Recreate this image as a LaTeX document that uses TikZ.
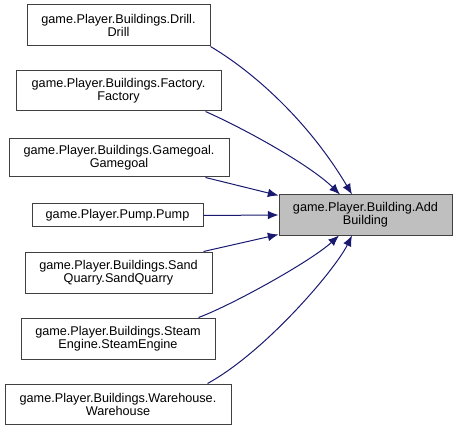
\documentclass[tikz,border=0pt]{standalone}
\usepackage{fontspec}
\setmainfont{Liberation Sans}
\usetikzlibrary{arrows.meta,calc}
\definecolor{edgeblue}{HTML}{191970}
\definecolor{boxline}{HTML}{404040}
\definecolor{boxfill}{HTML}{BFBFBF}
\begin{document}
\begin{tikzpicture}[x=0.75pt,y=-0.75pt,
  cls/.style={draw=boxline,line width=0.75pt,fill=white,inner sep=0pt,align=center,
    font=\fontsize{9.5}{9.75}\selectfont},
  edge/.style={draw=edgeblue,line width=0.75pt,-{Latex[length=8pt,width=6.5pt]}}]
\useasboundingbox (0,0) rectangle (457,431);
\node[cls,minimum width=137.25pt,minimum height=30.75pt] (drill) at (118.5,25.5) {game.Player.Buildings.Drill.\\Drill};
\node[cls,minimum width=153.75pt,minimum height=30pt] (factory) at (118.5,91) {game.Player.Buildings.Factory.\\Factory};
\node[cls,minimum width=165pt,minimum height=28.5pt] (gamegoal) at (119,158) {game.Player.Buildings.Gamegoal.\\Gamegoal};
\node[cls,minimum width=128.25pt,minimum height=17.25pt] (pump) at (117.5,215.5) {game.Player.Pump.Pump};
\node[cls,minimum width=140.25pt,minimum height=30.75pt] (sand) at (118.5,272.5) {game.Player.Buildings.Sand\\Quarry.SandQuarry};
\node[cls,minimum width=145.5pt,minimum height=30.75pt] (steam) at (118,338.5) {game.Player.Buildings.Steam\\Engine.SteamEngine};
\node[cls,minimum width=169.5pt,minimum height=30pt] (ware) at (118,404) {game.Player.Buildings.Warehouse.\\Warehouse};
\node[cls,fill=boxfill,minimum width=129.75pt,minimum height=30pt] (add) at (365.5,215) {game.Player.Building.Add\\Building};

\draw[edge] (drill.south east) .. controls (260,76) and (312,127) .. ($(add.north)+(-13.5,0)$);
\draw[edge] ($(factory.south east)+(-16,0)$) .. controls (245,129) and (310,165) .. ($(add.north)+(-25.5,0)$);
\draw[edge] ($(gamegoal.south east)+(-24,0)$) -- ($(add.north west)+(0,1)$);
\draw[edge] (pump.east) -- (add.west);
\draw[edge] ($(sand.north east)+(-9,0)$) -- ($(add.south west)+(0,-1)$);
\draw[edge] ($(steam.north east)+(-17,0)$) .. controls (230,306) and (310,262) .. ($(add.south)+(-26.5,0)$);
\draw[edge] ($(ware.north east)+(-24,0)$) .. controls (265,352) and (335,270) .. ($(add.south)+(-13.5,0)$);
\end{tikzpicture}
\end{document}
